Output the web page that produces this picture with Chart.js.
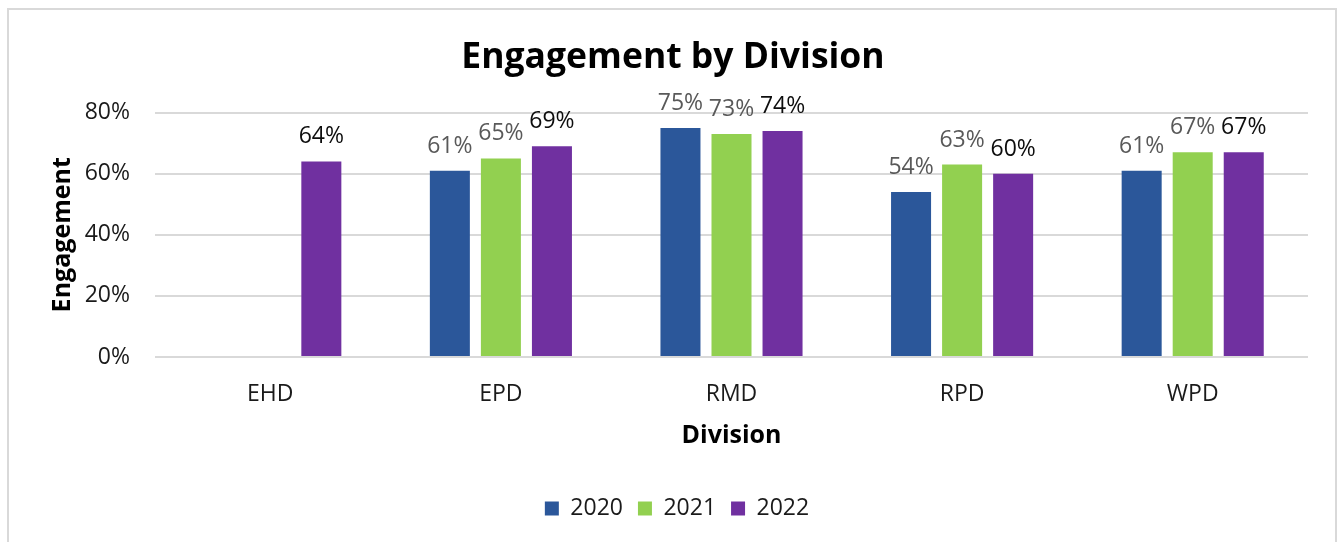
<!DOCTYPE html>
<html>
<head>
<meta charset="utf-8">
<script src="https://cdn.jsdelivr.net/npm/chart.js@4.4.1/dist/chart.umd.min.js"></script>
<style>
  body { margin: 0; background: #fff; }
  #frame { position: absolute; left: 7px; top: 8px; width: 1330px; height: 600px; box-sizing: border-box; border: 2px solid #d9d9d9; }
  #wrap { position: absolute; left: 0; top: 0; width: 1337px; height: 542px; }
</style>
</head>
<body>
<div id="frame"></div>
<div id="wrap"><canvas id="bars"></canvas></div>
<script>
// divisions and yearly engagement (%)
const divisions = ['EHD', 'EPD', 'RMD', 'RPD', 'WPD']
const years = ['2020', '2021', '2022']
const eng2020 = [null, 61, 75, 54, 61]
const eng2021 = [null, 65, 73, 63, 67]
const eng2022 = [64, 69, 74, 60, 67]
const yTicks = [0, 20, 40, 60, 80]

const FONT = "'Open Sans', 'Noto Sans', sans-serif"

// simple value labels above bars (no datalabels plugin available)
const barLabels = {
  id: 'barLabels',
  afterLayout(chart) {
    // title and legend sit a bit right of centre in the original
    chart.legend.left += 19
    chart.legend.right += 19
    chart.titleBlock.left += 15
    chart.titleBlock.right += 15
  },
  afterDatasetsDraw(chart) {
    const ctx = chart.ctx
    ctx.save()
    ctx.font = '23px ' + FONT
    ctx.textAlign = 'center'
    ctx.textBaseline = 'alphabetic'
    chart.data.datasets.forEach((ds, i) => {
      const meta = chart.getDatasetMeta(i)
      meta.data.forEach((bar, j) => {
        const v = ds.data[j]
        if (v == null) return
        ctx.fillStyle = ds.labelColor
        ctx.fillText(v + '%', bar.x, bar.y - 18)
      })
    })
    ctx.restore()
  }
}

const barConfig = {
  type: 'bar',
  data: {
    labels: divisions,
    datasets: [
      { label: years[0], data: eng2020, backgroundColor: '#2b579a', labelColor: '#595959' },
      { label: years[1], data: eng2021, backgroundColor: '#92d050', labelColor: '#595959' },
      { label: years[2], data: eng2022, backgroundColor: '#7030a0', labelColor: '#0d0d0d' },
    ],
  },
  options: {
    responsive: false,
    animation: false,
    layout: { padding: { top: 8, left: 8, right: 29, bottom: 12 } },
    datasets: { bar: { categoryPercentage: 0.664, barPercentage: 0.784 } },
    plugins: {
      title: {
        display: true,
        text: 'Engagement by Division',
        color: '#000',
        font: { family: FONT, size: 35.5, weight: 'bold' },
        padding: { top: 29, bottom: 33 },
      },
      legend: {
        position: 'bottom',
        labels: {
          color: '#1a1a1a',
          font: { family: FONT, size: 23 },
          boxWidth: 14,
          boxHeight: 14,
          padding: 15,
        },
      },
      tooltip: { enabled: false },
    },
    scales: {
      x: {
        grid: { display: false },
        border: { display: false },
        ticks: { color: '#1a1a1a', font: { family: FONT, size: 23 }, padding: 16 },
        title: {
          display: true,
          text: 'Division',
          color: '#000',
          font: { family: FONT, size: 25, weight: 'bold' },
          padding: { top: 0, bottom: 31 },
        },
        afterFit(scale) { scale.height = 125 },
      },
      y: {
        min: 0,
        max: 80,
        afterBuildTicks(scale) { scale.ticks = yTicks.map(v => ({ value: v })) },
        grid: { color: '#d9d9d9', lineWidth: 2, drawTicks: false },
        border: { display: false },
        ticks: {
          color: '#1a1a1a',
          font: { family: FONT, size: 23 },
          padding: 25,
          callback: v => v + '%',
        },
        title: {
          display: true,
          text: 'Engagement',
          color: '#000',
          font: { family: FONT, size: 25, weight: 'bold' },
          padding: { top: 40, bottom: 0 },
        },
        afterFit(scale) { scale.width = 147 },
      },
    },
  },
  plugins: [barLabels],
}

const barsCtx = document.getElementById('bars')
barsCtx.width = 1337
barsCtx.height = 542
window.myBar = new Chart(barsCtx, barConfig)
</script>
</body>
</html>
